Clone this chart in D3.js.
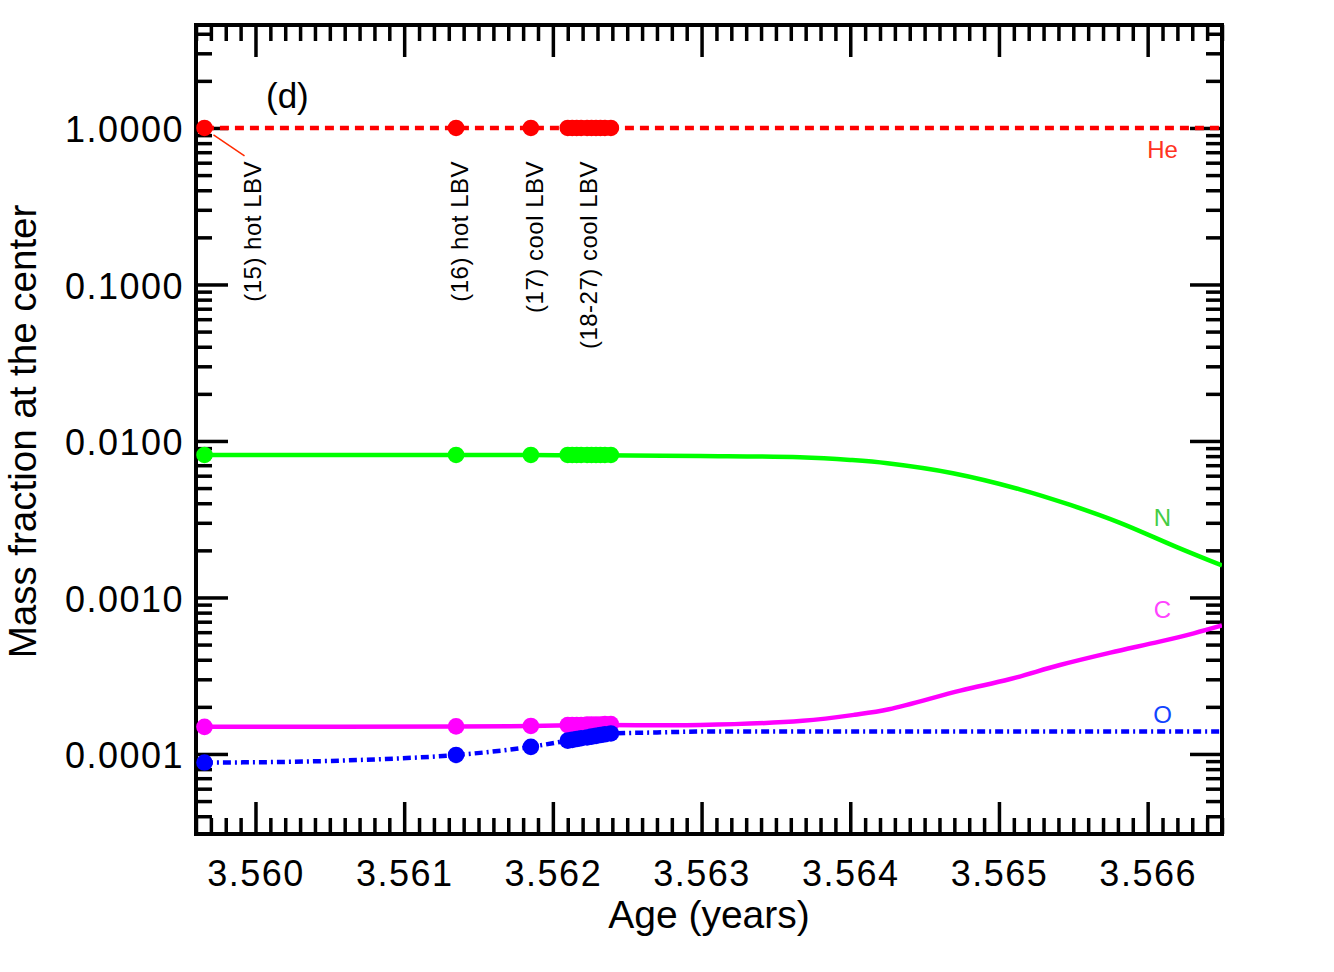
<!DOCTYPE html>
<html>
<head>
<meta charset="utf-8">
<script src="https://cdn.jsdelivr.net/npm/d3@7"></script>
<style>
  body { margin: 0; background: #fff; }
  text { font-family: "Liberation Sans", Arial, Helvetica, sans-serif; }
</style>
</head>
<body>
<svg id="chart" width="1334" height="972"></svg>
<script>
// model tracks (age in the units of the x axis, central mass fractions)
const heAge = [3.55966, 3.5665];
const heVal = [1.0, 1.0];

const nAge = [3.55966, 3.56135, 3.56185, 3.5623, 3.56299, 3.56366, 3.56400, 3.56425, 3.56469,
  3.56514, 3.56548, 3.56581, 3.56620, 3.5665];
const nVal = [0.00814, 0.00813, 0.00812, 0.00811, 0.00802, 0.00787, 0.00756, 0.00720, 0.00622,
  0.00491, 0.00390, 0.00301, 0.00209, 0.00160];

const cAge = [3.55966, 3.56135, 3.56185, 3.5623, 3.56299, 3.56368, 3.56403, 3.56426, 3.56474,
  3.56507, 3.56541, 3.56575, 3.56608, 3.56631, 3.5665];
const cVal = [0.000149, 0.000150, 0.000151, 0.000153, 0.000153, 0.000163, 0.000178, 0.000193, 0.000254,
  0.000300, 0.000370, 0.000444, 0.000522, 0.000590, 0.000662];

const oAge = [3.55966, 3.5602, 3.5608, 3.56135, 3.56185, 3.56210, 3.56239, 3.5627, 3.5630, 3.5665];
const oVal = [0.0000881, 0.0000890, 0.0000923, 0.0000985, 0.000111, 0.0001216, 0.0001352, 0.0001372, 0.000139, 0.000139];

// LBV phases marked on the tracks: (15), (16), (17), (18)..(27)
const dotAge = [3.559657, 3.561349, 3.561852,
  3.56210, 3.56213, 3.56216, 3.56219, 3.56223, 3.56226, 3.56229, 3.56232, 3.56235, 3.56239];
const heDot = [1, 1, 1, 1, 1, 1, 1, 1, 1, 1, 1, 1, 1];
const nDot = [0.00814, 0.00814, 0.00814, 0.00814, 0.00814, 0.00814, 0.00814, 0.00814, 0.00814, 0.00814, 0.00814, 0.00814, 0.00814];
const cDot = [0.000149, 0.000150, 0.000151, 0.000153, 0.000153, 0.000153, 0.000153, 0.000154, 0.000154, 0.000154, 0.000154, 0.000155, 0.000155];
const oDot = [0.0000881, 0.0000985, 0.000111,
  0.0001216, 0.0001231, 0.0001245, 0.0001260, 0.0001275, 0.0001290, 0.0001305, 0.0001321, 0.0001336, 0.0001352];

const phaseLabels = ["(15) hot LBV", "(16) hot LBV", "(17) cool LBV", "(18-27) cool LBV"];
const phaseLabelAge = [3.55998, 3.56137, 3.561875, 3.56224];

const speciesNames = ["He", "N", "C", "O"];
const speciesLabelVal = [0.643, 0.00286, 0.000739, 0.000158];
const speciesLabelAge = 3.5661;

const xMajor = [3.560, 3.561, 3.562, 3.563, 3.564, 3.565, 3.566];
const yMajor = [1, 0.1, 0.01, 0.001, 0.0001];

const W = 1334, H = 972;
const margin = {top: 25, right: 112, bottom: 138, left: 196};

const svg = d3.select('#chart');

const x = d3.scaleLinear()
  .domain([3.5596, 3.5665])
  .range([margin.left, W - margin.right]);
const y = d3.scaleLog()
  .domain([3.08e-5, 4.55])
  .range([H - margin.bottom, margin.top]);

const xMinor = d3.range(35596, 35666).map(d => d / 10000)
  .filter(v => !xMajor.some(m => Math.abs(m - v) < 1e-7));
const yMinor = y.ticks().filter(v => !yMajor.some(m => Math.abs(Math.log10(m) - Math.log10(v)) < 1e-6));

svg.append('clipPath').attr('id', 'plotclip')
  .append('rect')
  .attr('x', margin.left).attr('y', margin.top)
  .attr('width', W - margin.left - margin.right)
  .attr('height', H - margin.top - margin.bottom);

// ---- axes (ticks on all four sides, pointing inward)
function styleAxis(g) {
  g.select('.domain').remove();
  g.selectAll('.tick line').attr('stroke', '#000').attr('stroke-width', 3.5);
  g.selectAll('.tick text').attr('fill', '#000');
}

const bottomY = H - margin.bottom, leftX = margin.left;
const rightX = W - margin.right, topY = margin.top;

svg.append('g').attr('transform', `translate(0,${bottomY})`)
  .call(d3.axisBottom(x).tickValues(xMajor).tickSizeInner(-32).tickSizeOuter(0)
    .tickPadding(26).tickFormat(d3.format('.3f')))
  .call(styleAxis)
  .selectAll('.tick text').attr('font-size', 36).attr('letter-spacing', 1.5);
svg.append('g').attr('transform', `translate(0,${bottomY})`)
  .call(d3.axisBottom(x).tickValues(xMinor).tickSizeInner(-16).tickSizeOuter(0).tickFormat(''))
  .call(styleAxis);
svg.append('g').attr('transform', `translate(0,${topY})`)
  .call(d3.axisTop(x).tickValues(xMajor).tickSizeInner(-32).tickSizeOuter(0).tickFormat(''))
  .call(styleAxis);
svg.append('g').attr('transform', `translate(0,${topY})`)
  .call(d3.axisTop(x).tickValues(xMinor).tickSizeInner(-16).tickSizeOuter(0).tickFormat(''))
  .call(styleAxis);

svg.append('g').attr('transform', `translate(${leftX},0)`)
  .call(d3.axisLeft(y).tickValues(yMajor).tickSizeInner(-32).tickSizeOuter(0)
    .tickPadding(12).tickFormat(d3.format('.4f')))
  .call(styleAxis)
  .selectAll('.tick text').attr('font-size', 36).attr('letter-spacing', 1.5).attr('dy', '0.38em');
svg.append('g').attr('transform', `translate(${leftX},0)`)
  .call(d3.axisLeft(y).tickValues(yMinor).tickSizeInner(-16).tickSizeOuter(0).tickFormat(''))
  .call(styleAxis);
svg.append('g').attr('transform', `translate(${rightX},0)`)
  .call(d3.axisRight(y).tickValues(yMajor).tickSizeInner(-32).tickSizeOuter(0).tickFormat(''))
  .call(styleAxis);
svg.append('g').attr('transform', `translate(${rightX},0)`)
  .call(d3.axisRight(y).tickValues(yMinor).tickSizeInner(-16).tickSizeOuter(0).tickFormat(''))
  .call(styleAxis);

svg.append('rect')
  .attr('x', leftX).attr('y', topY)
  .attr('width', rightX - leftX).attr('height', bottomY - topY)
  .attr('fill', 'none').attr('stroke', '#000').attr('stroke-width', 4);

// axis titles
svg.append('text')
  .attr('x', (leftX + rightX) / 2).attr('y', 928)
  .attr('text-anchor', 'middle').attr('font-size', 39)
  .text('Age (years)');
svg.append('text')
  .attr('transform', `translate(36,${(topY + bottomY) / 2 + 2}) rotate(-90)`)
  .attr('text-anchor', 'middle').attr('font-size', 38.5)
  .text('Mass fraction at the center');

// ---- tracks
const smooth = d3.line()
  .x(d => x(d[0]))
  .y(d => y(d[1]))
  .curve(d3.curveCatmullRom.alpha(0.5));
const mono = d3.line()
  .x(d => x(d[0]))
  .y(d => y(d[1]))
  .curve(d3.curveMonotoneX);

const plot = svg.append('g').attr('clip-path', 'url(#plotclip)');

const tracks = [
  {age: heAge, val: heVal, color: '#ff0000', dash: '9,6', gen: mono},
  {age: nAge, val: nVal, color: '#00ff00', dash: null, gen: smooth},
  {age: cAge, val: cVal, color: '#ff00ff', dash: null, gen: smooth},
  {age: oAge, val: oVal, color: '#0000ff', dash: '8,4,2,4', gen: mono}
];

tracks.forEach(t => {
  plot.append('path')
    .datum(d3.zip(t.age, t.val))
    .attr('d', t.gen)
    .attr('fill', 'none')
    .attr('stroke', t.color)
    .attr('stroke-width', 4.5)
    .attr('stroke-dasharray', t.dash);
});

// ---- phase dots
const dotSets = [
  {val: heDot, color: '#ff0000'},
  {val: nDot, color: '#00ff00'},
  {val: cDot, color: '#ff00ff'},
  {val: oDot, color: '#0000ff'}
];
dotSets.forEach(s => {
  plot.selectAll(null)
    .data(d3.zip(dotAge, s.val))
    .enter()
    .append('circle')
    .attr('cx', d => x(d[0]))
    .attr('cy', d => y(d[1]))
    .attr('r', 8.3)
    .attr('fill', s.color);
});

// ---- phase labels
svg.append('line')
  .attr('x1', x(dotAge[0]) + 9).attr('y1', y(1) + 7)
  .attr('x2', x(phaseLabelAge[0]) - 8).attr('y2', y(1) + 28)
  .attr('stroke', '#ff2a00').attr('stroke-width', 1.5);

svg.selectAll('.phase')
  .data(phaseLabels)
  .enter()
  .append('text')
  .attr('class', 'phase')
  .attr('transform', (d, i) => `translate(${x(phaseLabelAge[i])},${y(1) + 33}) rotate(-90)`)
  .attr('text-anchor', 'end')
  .attr('dy', '0.35em')
  .attr('font-size', 24)
  .attr('letter-spacing', 0.5)
  .text(d => d);

svg.append('text')
  .attr('x', 266).attr('y', 108)
  .attr('font-size', 35)
  .text('(d)');

// species labels
const labelColors = ['#ff3322', '#44cc44', '#ff44ff', '#1144ff'];
svg.selectAll('.species')
  .data(speciesNames)
  .enter()
  .append('text')
  .attr('class', 'species')
  .attr('x', x(speciesLabelAge))
  .attr('y', (d, i) => y(speciesLabelVal[i]))
  .attr('text-anchor', 'middle')
  .attr('font-size', 24)
  .attr('fill', (d, i) => labelColors[i])
  .text(d => d);
</script>
</body>
</html>
